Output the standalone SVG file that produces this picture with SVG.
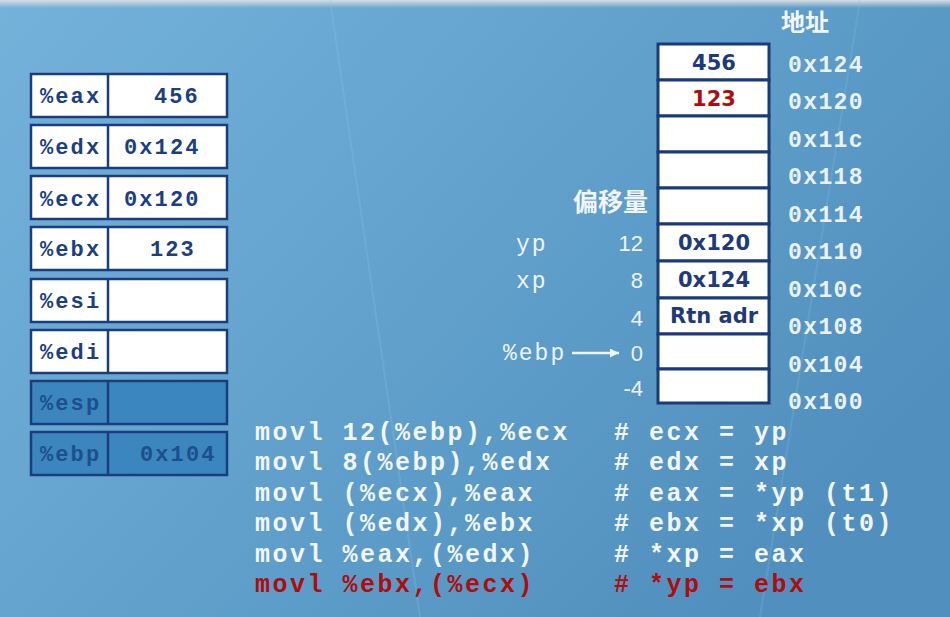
<svg xmlns="http://www.w3.org/2000/svg" width="950" height="617" viewBox="0 0 950 617">
<defs>
<linearGradient id="bg" x1="0" y1="0" x2="1" y2="0.6">
<stop offset="0" stop-color="#74b2da"/>
<stop offset="0.5" stop-color="#62a2cd"/>
<stop offset="1" stop-color="#5190be"/>
</linearGradient>
<linearGradient id="top" x1="0" y1="0" x2="0" y2="1">
<stop offset="0" stop-color="#d8dde2"/>
<stop offset="1" stop-color="#d8dde2" stop-opacity="0"/>
</linearGradient>
<marker id="ah" viewBox="0 0 10 10" refX="10" refY="5" markerWidth="9" markerHeight="9" markerUnits="userSpaceOnUse" orient="auto">
<path d="M0,0 L10,5 L0,10 z" fill="#eef4fa"/>
</marker>
<style>
.reg{fill:#ffffff;stroke:#1c3d7c;stroke-width:2.5}
.regd{fill:#3c86bf;stroke:#1c3d7c;stroke-width:2.5}
.div{stroke:#1c3d7c;stroke-width:2.5}
.rt{font-family:"Liberation Mono","Courier New",monospace;font-weight:bold;font-size:22px;letter-spacing:2.1px;fill:#1b3f80}
.rtd{font-family:"Liberation Mono","Courier New",monospace;font-weight:bold;font-size:22px;letter-spacing:2.1px;fill:#1d4f8c}
.cell{fill:#ffffff;stroke:#1a3a78;stroke-width:3}
.st{font-family:"DejaVu Sans","Verdana",sans-serif;font-weight:bold;font-size:21px;fill:#1e3a78;text-anchor:middle}
.addr{font-family:"Liberation Mono","Courier New",monospace;font-weight:bold;font-size:23px;letter-spacing:1.4px;fill:#eaf2f9}
.cjk{font-family:"Noto Sans CJK SC","Noto Sans",sans-serif;font-weight:bold;fill:#f2f6fa}
.off{font-family:"Liberation Sans",Arial,sans-serif;font-size:22px;fill:#eef4fa;text-anchor:end}
.lab{font-family:"Liberation Mono","Courier New",monospace;font-size:23px;letter-spacing:2px;fill:#eef4fa}
.code{font-family:"Liberation Mono","Courier New",monospace;font-weight:bold;font-size:25px;letter-spacing:2.5px;fill:#f2f6fa}
.red{fill:#b00c0c}
</style>
</defs>
<rect x="0" y="0" width="950" height="617" fill="url(#bg)"/>
<rect x="0" y="0" width="950" height="8" fill="url(#top)"/>
<path d="M330 0 L420 617" stroke="#8fc2e3" stroke-opacity="0.25" stroke-width="2" fill="none"/>
<path d="M860 0 L760 617" stroke="#8fc2e3" stroke-opacity="0.2" stroke-width="2" fill="none"/>

<g id="registers">
<g id="reg-eax"><rect class="reg" x="31" y="74" width="196" height="43"/><line class="div" x1="108" y1="74" x2="108" y2="117"/><text class="rt" x="40" y="103">%eax</text><text class="rt" x="154" y="103">456</text></g>
<g id="reg-edx"><rect class="reg" x="31" y="125" width="196" height="43"/><line class="div" x1="108" y1="125" x2="108" y2="168"/><text class="rt" x="40" y="154">%edx</text><text class="rt" x="124" y="154">0x124</text></g>
<g id="reg-ecx"><rect class="reg" x="31" y="176" width="196" height="43"/><line class="div" x1="108" y1="176" x2="108" y2="219"/><text class="rt" x="40" y="206">%ecx</text><text class="rt" x="124" y="206">0x120</text></g>
<g id="reg-ebx"><rect class="reg" x="31" y="227" width="196" height="43"/><line class="div" x1="108" y1="227" x2="108" y2="270"/><text class="rt" x="40" y="256">%ebx</text><text class="rt" x="150" y="256">123</text></g>
<g id="reg-esi"><rect class="reg" x="31" y="279" width="196" height="43"/><line class="div" x1="108" y1="279" x2="108" y2="322"/><text class="rt" x="40" y="308">%esi</text></g>
<g id="reg-edi"><rect class="reg" x="31" y="330" width="196" height="43"/><line class="div" x1="108" y1="330" x2="108" y2="373"/><text class="rt" x="40" y="359">%edi</text></g>
<g id="reg-esp"><rect class="regd" x="31" y="381" width="196" height="43"/><line class="div" x1="108" y1="381" x2="108" y2="424"/><text class="rtd" x="40" y="410">%esp</text></g>
<g id="reg-ebp"><rect class="regd" x="31" y="432" width="196" height="43"/><line class="div" x1="108" y1="432" x2="108" y2="475"/><text class="rtd" x="40" y="461">%ebp</text><text class="rtd" x="140" y="461">0x104</text></g>
</g>

<g id="stack">
<text class="cjk" x="781" y="31" font-size="24">地址</text>
<g id="m124"><rect class="cell" x="658" y="44" width="111" height="36"/><text class="st" x="714" y="70">456</text></g>
<g id="m120"><rect class="cell" x="658" y="80" width="111" height="36"/><text class="st red" x="714" y="106">123</text></g>
<g id="m11c"><rect class="cell" x="658" y="116" width="111" height="36"/></g>
<g id="m118"><rect class="cell" x="658" y="152" width="111" height="36"/></g>
<g id="m114"><rect class="cell" x="658" y="188" width="111" height="36"/></g>
<g id="m110"><rect class="cell" x="658" y="224" width="111" height="37"/><text class="st" x="714" y="250">0x120</text></g>
<g id="m10c"><rect class="cell" x="658" y="261" width="111" height="37"/><text class="st" x="714" y="287">0x124</text></g>
<g id="m108"><rect class="cell" x="658" y="298" width="111" height="36"/><text class="st" x="714" y="323">Rtn adr</text></g>
<g id="m104"><rect class="cell" x="658" y="334" width="111" height="35"/></g>
<g id="m100"><rect class="cell" x="658" y="369" width="111" height="34"/></g>
<text class="addr" x="788" y="72">0x124</text>
<text class="addr" x="788" y="109">0x120</text>
<text class="addr" x="788" y="147">0x11c</text>
<text class="addr" x="788" y="184">0x118</text>
<text class="addr" x="788" y="222">0x114</text>
<text class="addr" x="788" y="259">0x110</text>
<text class="addr" x="788" y="297">0x10c</text>
<text class="addr" x="788" y="334">0x108</text>
<text class="addr" x="788" y="372">0x104</text>
<text class="addr" x="788" y="409">0x100</text>
<text class="cjk" x="573" y="211" font-size="25">偏移量</text>
<text class="lab" x="516" y="251">yp</text>
<text class="lab" x="516" y="288">xp</text>
<text class="lab" x="503" y="360">%ebp</text>
<text class="off" x="643" y="251">12</text>
<text class="off" x="643" y="288">8</text>
<text class="off" x="643" y="326">4</text>
<text class="off" x="643" y="361">0</text>
<text class="off" x="643" y="396">-4</text>
</g>

<g id="connectors">
<line x1="572" y1="353" x2="619" y2="353" stroke="#eef4fa" stroke-width="2.5" marker-end="url(#ah)"/>
</g>

<g id="code">
<text class="code" x="255" y="440">movl 12(%ebp),%ecx</text>
<text class="code" x="255" y="470">movl 8(%ebp),%edx</text>
<text class="code" x="255" y="501">movl (%ecx),%eax</text>
<text class="code" x="255" y="531">movl (%edx),%ebx</text>
<text class="code" x="255" y="562">movl %eax,(%edx)</text>
<text class="code red" x="255" y="592">movl %ebx,(%ecx)</text>
<text class="code" x="614" y="440"># ecx = yp</text>
<text class="code" x="614" y="470"># edx = xp</text>
<text class="code" x="614" y="501"># eax = *yp (t1)</text>
<text class="code" x="614" y="531"># ebx = *xp (t0)</text>
<text class="code" x="614" y="562"># *xp = eax</text>
<text class="code red" x="614" y="592"># *yp = ebx</text>
</g>
</svg>
